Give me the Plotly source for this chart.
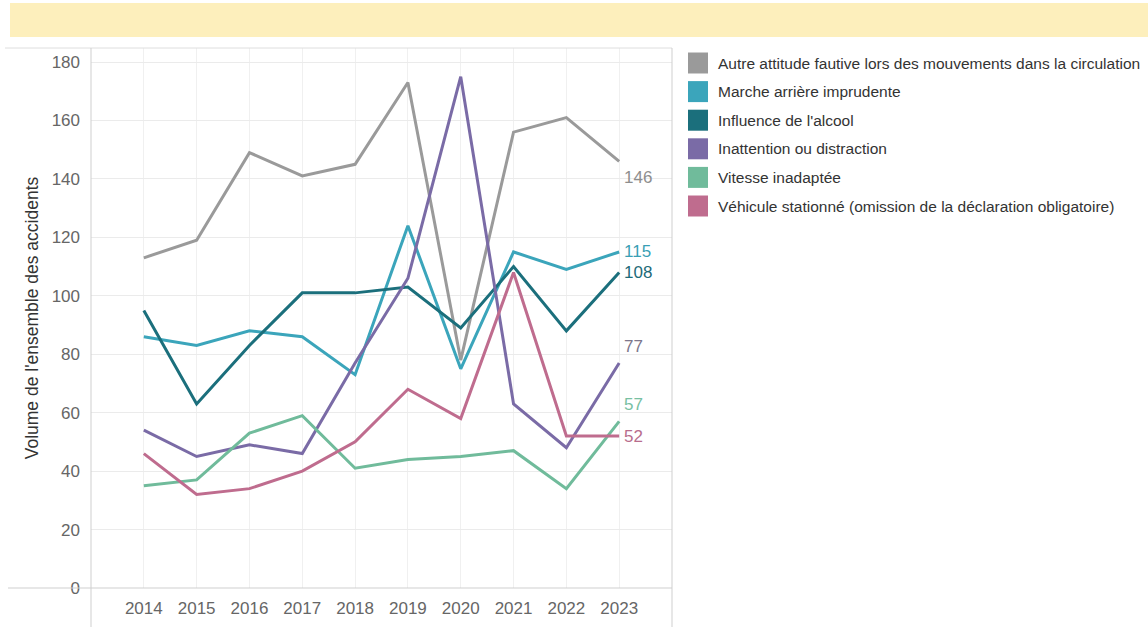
import plotly.graph_objects as go

# ---- data ----
years = [2014, 2015, 2016, 2017, 2018, 2019, 2020, 2021, 2022, 2023]
series_names = [
    "Autre attitude fautive lors des mouvements dans la circulation",
    "Marche arrière imprudente",
    "Influence de l'alcool",
    "Inattention ou distraction",
    "Vitesse inadaptée",
    "Véhicule stationné (omission de la déclaration obligatoire)",
]
autre_attitude = [113, 119, 149, 141, 145, 173, 78, 156, 161, 146]
marche_arriere = [86, 83, 88, 86, 73, 124, 75, 115, 109, 115]
influence_alcool = [95, 63, 83, 101, 101, 103, 89, 110, 88, 108]
inattention = [54, 45, 49, 46, 77, 106, 175, 63, 48, 77]
vitesse = [35, 37, 53, 59, 41, 44, 45, 47, 34, 57]
vehicule_stationne = [46, 32, 34, 40, 50, 68, 58, 108, 52, 52]
y_title = "Volume de l'ensemble des accidents"
y_ticks = [0, 20, 40, 60, 80, 100, 120, 140, 160, 180]

values = [autre_attitude, marche_arriere, influence_alcool, inattention, vitesse, vehicule_stationne]

# ---- style ----
colors = ["#9a9a9a", "#3ba5bb", "#1b6f7c", "#7a6ba6", "#70bb9b", "#bf6c8e"]
label_colors = ["#8e8e8e", "#3a9fb5", "#1d6a78", "#7d778c", "#78c0a2", "#b86d8d"]
label_yshift = [-16, 0, 0, 17, 17, 0]
FONT = "Arial, 'Liberation Sans', sans-serif"

W, H = 1148, 627
L, R, T, B = 91, 672, 48, 588  # plot area in px


def px_x(px):
    return (px - L) / (R - L)


def px_y(py):
    return (B - py) / (B - T)


fig = go.Figure()
for name, vals, col in zip(series_names, values, colors):
    fig.add_trace(go.Scatter(
        x=years, y=vals, name=name, mode="lines",
        line=dict(color=col, width=3), showlegend=False,
        hoverinfo="x+y+name",
    ))

annotations = []
# end labels
for vals, col, ys in zip(values, label_colors, label_yshift):
    annotations.append(dict(
        x=years[-1], y=vals[-1], xref="x", yref="y", text=str(vals[-1]),
        showarrow=False, xanchor="left", yanchor="middle", xshift=3, yshift=ys,
        font=dict(family=FONT, size=17, color=col),
    ))

shapes = []
# header band
shapes.append(dict(type="rect", xref="paper", yref="paper",
                   x0=px_x(10), x1=px_x(W), y0=px_y(37), y1=px_y(3),
                   fillcolor="#fdefbc", line=dict(width=0), layer="below"))
# frame lines (Tableau-like)
line_col = "#cfcfcf"
shapes.append(dict(type="line", xref="paper", yref="paper", x0=px_x(8), x1=1, y0=0, y1=0,
                   line=dict(color=line_col, width=1)))
shapes.append(dict(type="line", xref="paper", yref="paper", x0=px_x(5), x1=1, y0=1, y1=1,
                   line=dict(color="#dedede", width=1)))
shapes.append(dict(type="line", xref="paper", yref="paper", x0=0, x1=0, y0=px_y(H), y1=1,
                   line=dict(color=line_col, width=1)))
shapes.append(dict(type="line", xref="paper", yref="paper", x0=1, x1=1, y0=px_y(H), y1=1,
                   line=dict(color=line_col, width=1)))

# legend (square swatches)
for i, (name, col) in enumerate(zip(series_names, colors)):
    cy = 63 + i * 28.6
    shapes.append(dict(type="rect", xref="paper", yref="paper",
                       x0=px_x(688), x1=px_x(708), y0=px_y(cy + 10.5), y1=px_y(cy - 10.5),
                       fillcolor=col, line=dict(width=0)))
    annotations.append(dict(
        x=px_x(716), y=px_y(cy), xref="paper", yref="paper", text=name,
        showarrow=False, xanchor="left", yanchor="middle",
        font=dict(family=FONT, size=15.5, color="#333333"),
    ))

fig.update_layout(
    width=W, height=H,
    margin=dict(l=L, r=W - R, t=T, b=H - B, pad=0, autoexpand=False),
    paper_bgcolor="white", plot_bgcolor="white",
    font=dict(family=FONT, color="#666666"),
    showlegend=False,
    shapes=shapes,
    annotations=annotations,
    xaxis=dict(
        range=[years[0] - 1, years[-1] + 1],
        tickmode="array", tickvals=years, ticktext=[str(y) for y in years],
        showgrid=True, gridcolor="#f0f0f0", gridwidth=1,
        zeroline=False, showline=False, ticks="",
        tickfont=dict(family=FONT, size=17, color="#666666"),
        ticklabelstandoff=8,
        automargin=False,
        fixedrange=True,
    ),
    yaxis=dict(
        range=[0, 184.8],
        tickmode="array", tickvals=y_ticks,
        showgrid=True, gridcolor="#ebebeb", gridwidth=1,
        zeroline=False, showline=False, ticks="",
        tickfont=dict(family=FONT, size=17, color="#666666"),
        ticklabelstandoff=10,
        automargin=False,
        title=dict(text=y_title, font=dict(family=FONT, size=17.5, color="#333333"), standoff=8),
        fixedrange=True,
    ),
)

fig.write_html(
    "out.html",
    config={"displayModeBar": False},
    post_script="document.body.style.margin='0px';document.body.style.overflow='hidden';",
)
